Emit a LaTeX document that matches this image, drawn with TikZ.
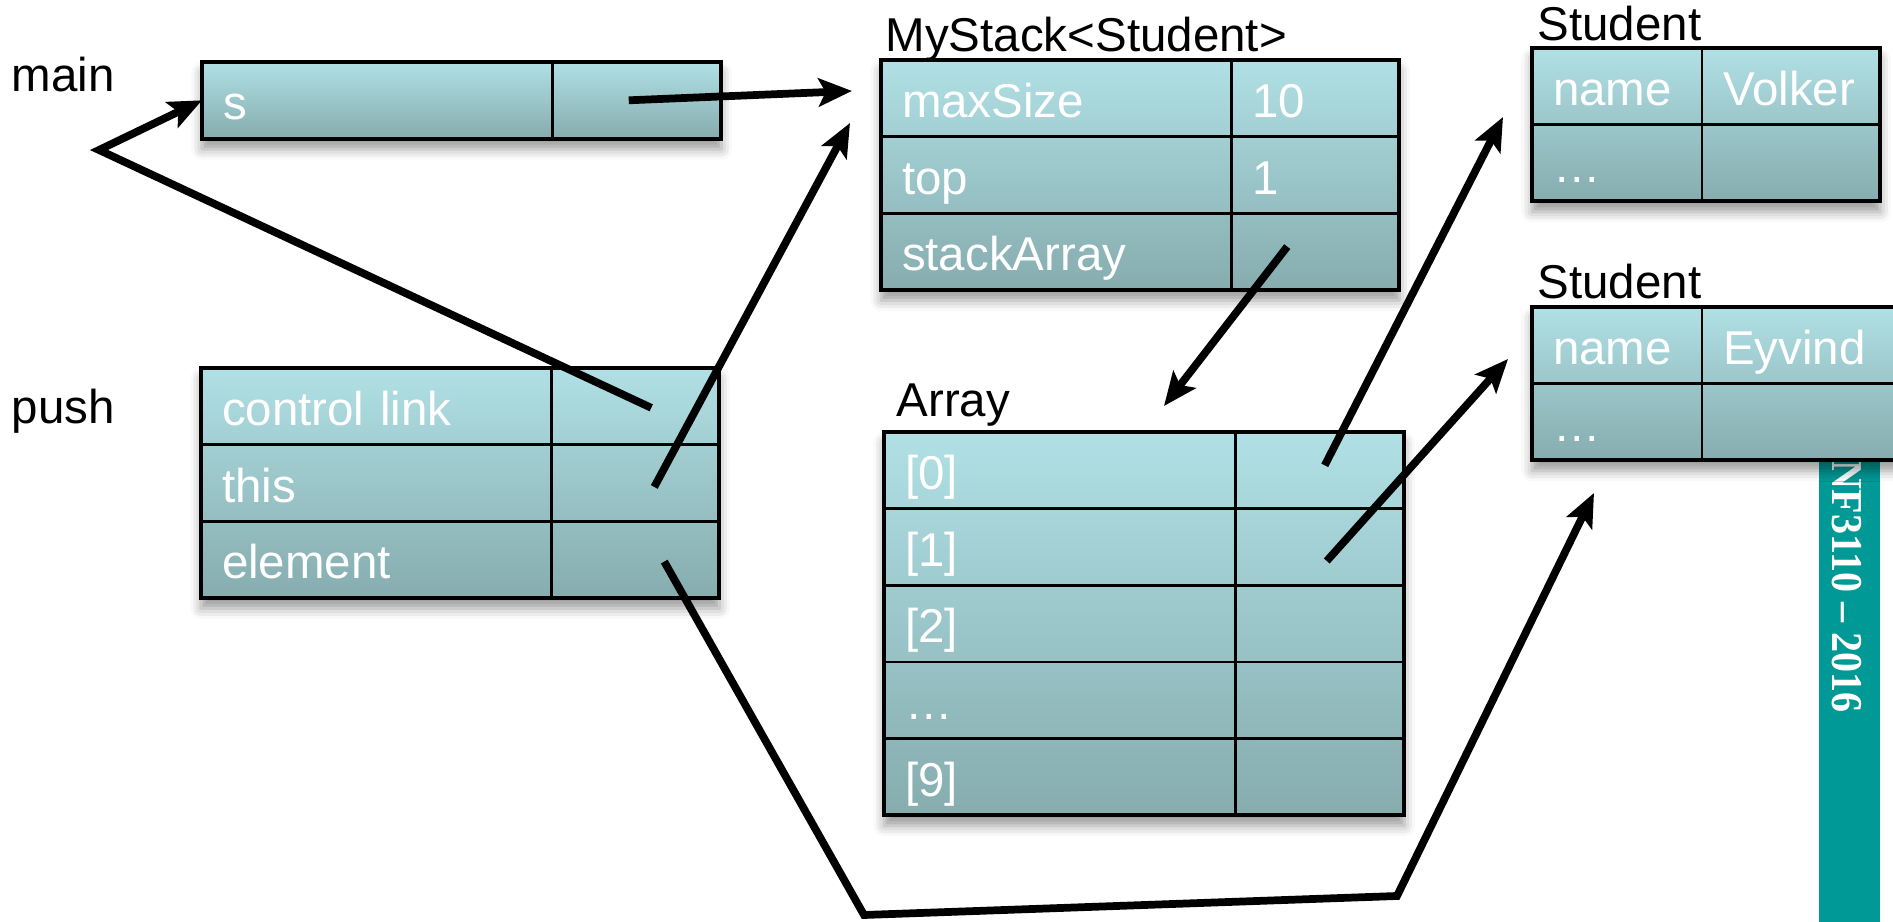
\documentclass[tikz,border=0pt]{standalone}
\usepackage{fontspec}
\setmainfont{Liberation Sans}
\newfontfamily\stripfont{Liberation Serif}
\usetikzlibrary{arrows.meta,calc,shadows.blur}
\pgfdeclarelayer{background}
\pgfsetlayers{background,main}
\definecolor{cellTop}{RGB}{176,224,229}
\definecolor{cellBot}{RGB}{134,172,174}
\definecolor{stripTeal}{RGB}{0,153,150}
\tikzset{
  lbl/.style={font=\fontsize{13.5}{16}\selectfont, text=black, inner sep=0pt, anchor=base west},
  cellbox/.style={draw=black, line width=0.75pt, anchor=north west, inner sep=0pt, outer sep=0pt,
    align=left, text=white, font=\fontsize{13.5}{16}\selectfont,
    text height=0.576cm, text depth=0.19cm},
  tblshade/.style={top color=cellTop, bottom color=cellBot,
    blur shadow={shadow xshift=0pt, shadow yshift=-3pt, shadow blur radius=3pt, shadow opacity=40}},
  tblframe/.style={draw=black, line width=1.1pt},
  ptr/.style={draw=black, line width=2.2pt, line join=miter,
    -{Stealth[length=9.5pt,width=8pt,inset=2pt]}}
}
% #1 name, #2 top-left corner, #3 key column width, #4 value column width, #5 key/value rows
\newcommand\memtable[5]{%
  \foreach \k/\v [count=\i] in {#5}{%
    \ifnum\i=1\relax
      \coordinate (#1-at) at (#2);
    \else
      \pgfmathtruncatemacro\prevrow{\i-1}%
      \coordinate (#1-at) at (#1-\prevrow.south west);
    \fi
    \node[cellbox, text width=#3] (#1-\i) at (#1-at) {\hspace*{0.21cm}\k};
    \node[cellbox, text width=#4] (#1-\i-v) at (#1-\i.north east) {\hspace*{0.21cm}\v};
    \xdef\lastrow{\i}%
  }%
  \begin{pgfonlayer}{background}
    \path[tblshade] (#1-1.north west) rectangle (#1-\lastrow-v.south east);
  \end{pgfonlayer}
  \draw[tblframe] (#1-1.north west) rectangle (#1-\lastrow-v.south east);
}
\begin{document}
\begin{tikzpicture}[x=0.01cm, y=-0.01cm]
\useasboundingbox (0,0) rectangle (1893,922);

% course strip at the right edge, partly hidden behind the second Student object
\begin{pgfonlayer}{background}
  \fill[stripTeal] (1819,400) rectangle (1880,922);
  \node[rotate=-90, anchor=base west, inner sep=0pt, text=white,
        font=\stripfont\bfseries\fontsize{11.4}{13}\selectfont] (footer) at (1832,460)
        {\scalebox{1}[1.1]{NF3110 – 2016}};
\end{pgfonlayer}

% frame labels and object titles
\node[lbl] (lmain) at (11,92) {main};
\node[lbl] (lpush) at (11,424) {push};
\node[lbl] (lms) at (885,52) {MyStack<Student>};
\node[lbl] (larr) at (896,417) {Array};
\node[lbl] (lstuA) at (1537,41) {Student};
\node[lbl] (lstuB) at (1537,299) {Student};

% activation records and heap objects
\memtable{sbox}{202,62}{3.5cm}{1.69cm}{s/{}}
\memtable{push}{201,368}{3.5cm}{1.68cm}{{control link}/{}, this/{}, element/{}}
\memtable{mstack}{881,60}{3.5cm}{1.68cm}{maxSize/10, top/1, stackArray/{}}
\memtable{arr}{884,432}{3.51cm}{1.69cm}{{[0]}/{}, {[1]}/{}, {[2]}/{}, …/{}, {[9]}/{}}
\memtable{stuA}{1532,48}{1.7cm}{1.78cm}{name/Volker, …/{}}
\memtable{stuB}{1532,307}{1.7cm}{2.2cm}{name/Eyvind, …/{}}

% references
\coordinate (tipS) at (852,91);
\draw[ptr] ($(sbox-1-v.center)+(-8,0)$) -- (tipS);

\coordinate (bendCtl) at (99,150);
\draw[ptr] ($(push-1-v.center)+(16,1.5)$) -- (bendCtl) -- (sbox-1.west);

\coordinate (tipThis) at (850,123);
\draw[ptr] ($(push-2-v.center)+(19,4)$) -- (tipThis);

\coordinate (tipArr) at (1164,406);
\draw[ptr] ($(mstack-3-v.center)+(-28,-5)$) -- (tipArr);

\coordinate (tipVolker) at (1503,117);
\draw[ptr] ($(arr-1-v.center)+(5,-5)$) -- (tipVolker);

\coordinate (tipEyvind) at (1508,359);
\draw[ptr] ($(arr-2-v.center)+(7,14)$) -- (tipEyvind);

\coordinate (elemA) at (864,915);
\coordinate (elemB) at (1397,896);
\coordinate (tipElem) at (1594,493);
\draw[ptr] ($(push-3-v.center)+(29,2)$) -- (elemA) -- (elemB) -- (tipElem);
\end{tikzpicture}
\end{document}
